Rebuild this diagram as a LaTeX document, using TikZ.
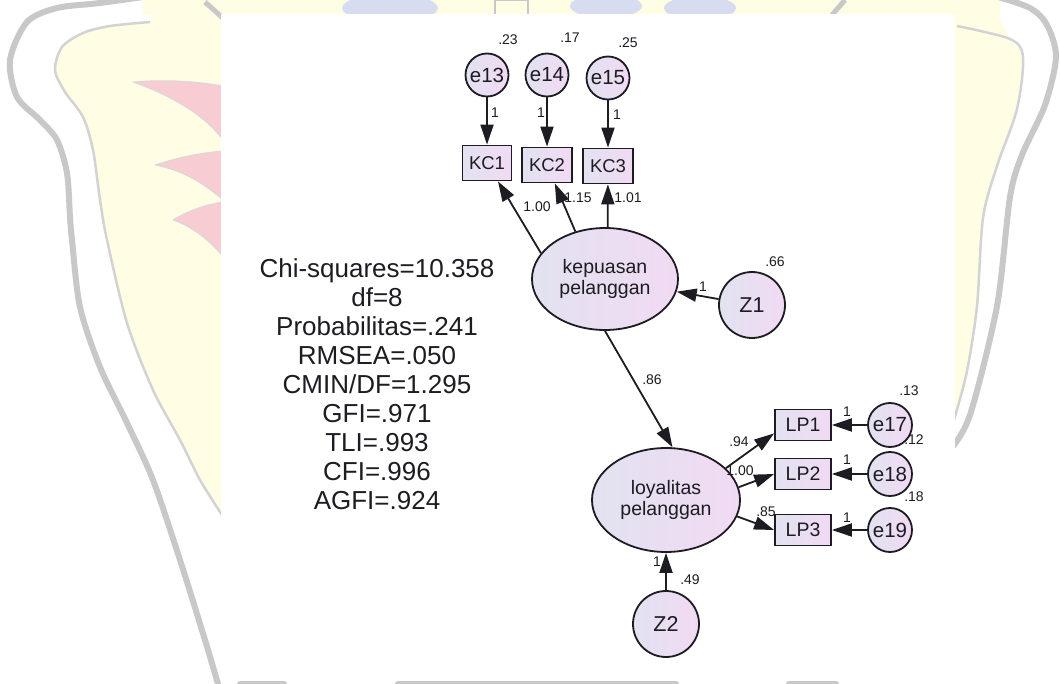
\documentclass[tikz,border=0pt]{standalone}
\usepackage{fontspec}
\setmainfont{Liberation Sans}
\usetikzlibrary{shapes.geometric,arrows.meta}
\definecolor{fillL}{RGB}{226,226,240}
\definecolor{fillR}{RGB}{241,218,243}
\definecolor{wmgrey}{RGB}{200,200,200}
\definecolor{wmyellow}{RGB}{255,253,228}
\definecolor{wmpink}{RGB}{247,204,211}
\definecolor{wmblue}{RGB}{216,220,240}
\definecolor{ink}{RGB}{28,28,34}
\begin{document}
\begin{tikzpicture}[x=1pt,y=-1pt,
  latent/.style={ellipse, draw=ink, line width=1.8pt, left color=fillL, right color=fillR,
    minimum width=146pt, minimum height=102pt, inner sep=0pt, align=center,
    font=\fontsize{19.5}{21}\selectfont, text=ink},
  obsbox/.style={rectangle, draw=ink, line width=1.8pt, left color=fillL, right color=fillR,
    minimum width=49pt, minimum height=35pt, inner sep=0pt, font=\fontsize{18.5}{18.5}\selectfont, text=ink},
  lpbox/.style={obsbox, minimum width=56pt, minimum height=31pt, font=\fontsize{19.5}{19.5}\selectfont},
  errc/.style={circle, draw=ink, line width=1.8pt, left color=fillL, right color=fillR,
    minimum size=43pt, inner sep=0pt, font=\fontsize{20.5}{20.5}\selectfont, text=ink},
  distc/.style={errc, minimum size=66pt, font=\fontsize{21.5}{21.5}\selectfont},
  lab/.style={inner sep=0pt, font=\fontsize{14}{14}\selectfont, text=ink},
  conn/.style={-{Triangle[length=20pt,width=13pt]}, line width=1.8pt, draw=ink},
  wmband/.style={draw=wmgrey, line width=6pt, line cap=round},
  wmline/.style={draw=wmgrey!80, line width=2.5pt}
]
\useasboundingbox (0,0) rectangle (1060,684);
\fill[white] (0,0) rectangle (1060,684);

% ---------- watermark (background) ----------
\fill[wmyellow] (143,0) rectangle (1000,15);
\fill[wmyellow] plot[smooth] coordinates {(150,-1) (150,22) (110,26) (83,33) (62,47) (55,70) (65,92) (83,117) (93,150) (100,200) (107,240) (127,323) (153,390) (180,440) (200,480) (222,515)} -- (222,-1) -- cycle;
\fill[wmyellow] plot[smooth] coordinates {(990,-1) (1010,39) (1023,57) (1017,109) (997,166) (983,218) (977,306) (967,371) (954,420)} -- (954,-1) -- cycle;
\path[wmband] plot[smooth] coordinates {(150,-4) (100,3) (57,8) (27,22) (10,60) (17,97) (40,120) (57,140) (67,173) (70,217) (72,240) (80,307) (100,367) (127,423) (153,480) (180,560) (205,640) (218,684)};
\path[wmline] plot[smooth] coordinates {(150,22) (110,26) (83,33) (62,47) (55,70) (65,92) (83,117) (93,150) (100,200) (107,240) (127,323) (153,390) (180,440) (200,480) (222,515)};
\path[wmband] plot[smooth] coordinates {(995,-4) (1030,8) (1047,25) (1056,57) (1045,105) (1022,155) (1010,197) (997,306) (970,415) (950,450)};
\path[wmline] plot[smooth] coordinates {(957,26) (1010,39) (1023,57) (1017,109) (997,166) (983,218) (977,306) (967,371) (954,420)};
\filldraw[fill=wmpink, draw=wmgrey!70, line width=1pt] (133,82) .. controls (170,79) and (200,82) .. (223,86) -- (223,140) .. controls (205,115) and (170,95) .. (133,82);
\filldraw[fill=wmpink, draw=wmgrey!70, line width=1pt] (155,165) .. controls (180,157) and (200,153) .. (223,151) -- (223,200) .. controls (200,180) and (180,170) .. (155,165);
\filldraw[fill=wmpink, draw=wmgrey!70, line width=1pt] (173,220) .. controls (190,210) and (205,205) .. (223,202) -- (223,256) .. controls (205,236) and (190,226) .. (173,220);
\fill[wmblue] (390,8) ellipse [x radius=48, y radius=14];
\fill[wmblue] (606,6) ellipse [x radius=36, y radius=12];
\fill[wmblue] (700,8) ellipse [x radius=36, y radius=12];
\draw[wmgrey, line width=2pt] (495,15) -- (495,0) -- (528,0) -- (528,15);
\draw[wmgrey, line width=5pt] (205,2) -- (225,20);
\draw[wmgrey, line width=5pt] (832,15) -- (845,0);
\path[wmband] (240,684) -- (284,684);
\path[wmband] (398,684) -- (676,684);
\path[wmband] (789,684) -- (836,684);

% ---------- diagram area ----------
\fill[white] (221,14) rectangle (955,679);

% fit statistics
\node[align=center, inner sep=0pt, font=\fontsize{26}{29}\selectfont, text=ink] (fit) at (377,384)
  {Chi-squares=10.358\\df=8\\Probabilitas=.241\\RMSEA=.050\\CMIN/DF=1.295\\GFI=.971\\TLI=.993\\CFI=.996\\AGFI=.924};

% latent variables
\node[latent] (kep) at (605,279) {kepuasan\\pelanggan};
\node[latent, minimum width=148pt, minimum height=104pt] (loy) at (666,500) {loyalitas\\pelanggan};

% indicators
\node[obsbox] (KC1) at (487,163) {KC1};
\node[obsbox, minimum width=50pt] (KC2) at (547,165) {KC2};
\node[obsbox, minimum width=50pt] (KC3) at (608,166) {KC3};
\node[lpbox] (LP1) at (803,425) {LP1};
\node[lpbox] (LP2) at (803,474) {LP2};
\node[lpbox] (LP3) at (803,530) {LP3};

% errors and disturbances
\node[errc] (e13) at (487,75) {e13};
\node[errc] (e14) at (547,75) {e14};
\node[errc] (e15) at (608,78) {e15};
\node[errc, minimum size=44pt] (e17) at (890,425) {e17};
\node[errc, minimum size=44pt] (e18) at (890,474) {e18};
\node[errc, minimum size=44pt] (e19) at (890,530) {e19};
\node[distc] (Z1) at (752,305) {Z1};
\node[distc] (Z2) at (666,624) {Z2};

% connectors
\draw[conn] (e13) -- (KC1);
\draw[conn] (e14) -- (KC2);
\draw[conn] (e15) -- (KC3);
\draw[conn] (kep.158) -- (KC1);
\draw[conn] (kep.122) -- (KC2);
\draw[conn] (kep.87) -- (KC3);
\draw[conn] (Z1) -- (kep);
\draw[conn] (kep.south) -- (loy.83);
\draw[conn] (loy.28) -- ([yshift=8pt]LP1.south west);
\draw[conn] (loy.10) -- (LP2.west);
\draw[conn] (loy.-13) -- (LP3.west);
\draw[conn] (e17) -- (LP1);
\draw[conn] (e18) -- (LP2);
\draw[conn] (e19) -- (LP3);
\draw[conn] (Z2) -- (loy);

% estimates
\node[lab] (v13) at (508,40) {.23};
\node[lab] (v14) at (570,38) {.17};
\node[lab] (v15) at (628,43) {.25};
\node[lab] (w13) at (495,113) {1};
\node[lab] (w14) at (541,113) {1};
\node[lab] (w15) at (617,115) {1};
\node[lab] (l1) at (537,207) {1.00};
\node[lab] (l2) at (578,198) {1.15};
\node[lab] (l3) at (628,198) {1.01};
\node[lab] (vz1) at (775,262) {.66};
\node[lab] (wz1) at (703,287) {1};
\node[lab] (b1) at (652,380) {.86};
\node[lab] (m1) at (739,442) {.94};
\node[lab] (m2) at (740,471) {1.00};
\node[lab] (m3) at (766,512) {.85};
\node[lab] (v17) at (909,391) {.13};
\node[lab] (v18) at (914,440) {.12};
\node[lab] (v19) at (914,497) {.18};
\node[lab] (w17) at (847,412) {1};
\node[lab] (w18) at (847,460) {1};
\node[lab] (w19) at (847,518) {1};
\node[lab] (wz2) at (657,562) {1};
\node[lab] (vz2) at (690,580) {.49};
\end{tikzpicture}
\end{document}
